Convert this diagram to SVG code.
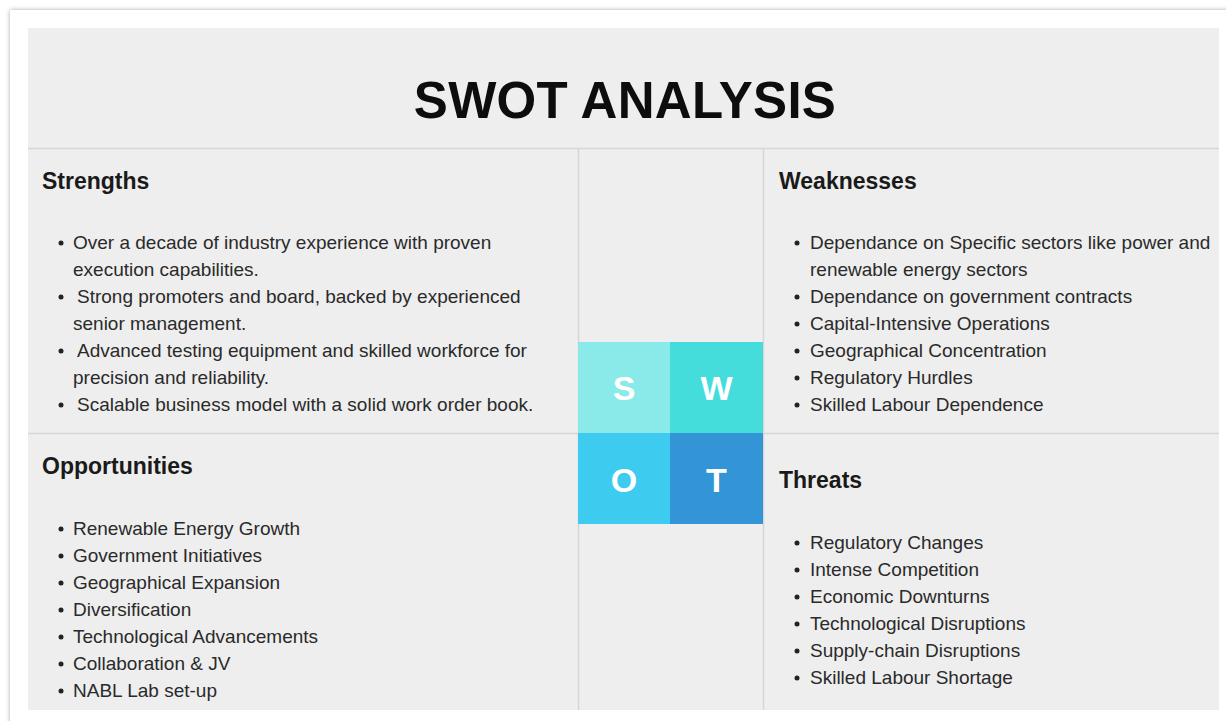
<svg xmlns="http://www.w3.org/2000/svg" width="1226" height="721" viewBox="0 0 1226 721">
  <defs>
    <filter id="shadow" x="-5%" y="-5%" width="110%" height="110%">
      <feDropShadow dx="0" dy="0" stdDeviation="2" flood-color="#000" flood-opacity="0.35"/>
    </filter>
    <style>
      .title { font-family: "Liberation Sans", Arial, sans-serif; font-weight: 700; font-size: 51px; fill: #0d0d0d; letter-spacing: 0.3px; }
      .head { font-family: "Liberation Sans", Arial, sans-serif; font-weight: 700; font-size: 23px; fill: #1a1a1a; }
      .item { font-family: "Liberation Sans", Arial, sans-serif; font-size: 19px; fill: #2a2a2a; }
      .letter { font-family: "Liberation Sans", Arial, sans-serif; font-weight: 700; font-size: 34px; fill: #ffffff; text-anchor: middle; }
      .div { stroke: #d6d6d6; stroke-width: 1.5; fill: none; }
      .dot { fill: #222222; }
    </style>
  </defs>
  <rect x="0" y="0" width="1226" height="721" fill="#ffffff"/>
  <rect x="10" y="10" width="1240" height="740" fill="#ffffff" filter="url(#shadow)"/>
  <rect x="28" y="28" width="1191" height="682" fill="#eeeeee"/>

  <g id="dividers">
    <line class="div" x1="28" y1="148.5" x2="1219" y2="148.5"/>
    <line class="div" x1="578.5" y1="148.5" x2="578.5" y2="710"/>
    <line class="div" x1="763.5" y1="148.5" x2="763.5" y2="710"/>
    <line class="div" x1="28" y1="433.5" x2="578" y2="433.5"/>
    <line class="div" x1="763" y1="433.5" x2="1219" y2="433.5"/>
  </g>

  <g id="title">
    <text class="title" x="625" y="118" text-anchor="middle">SWOT ANALYSIS</text>
  </g>

  <g id="swot-grid">
    <g id="box-s"><rect x="578" y="342" width="92" height="91" fill="#8ae9e9"/><text class="letter" x="624" y="400">S</text></g>
    <g id="box-w"><rect x="670" y="342" width="93" height="91" fill="#45dddb"/><text class="letter" x="716.5" y="400">W</text></g>
    <g id="box-o"><rect x="578" y="433" width="92" height="91" fill="#3dcbef"/><text class="letter" x="624" y="492">O</text></g>
    <g id="box-t"><rect x="670" y="433" width="93" height="91" fill="#3395d6"/><text class="letter" x="716.5" y="492">T</text></g>
  </g>

  <g id="strengths">
    <text class="head" x="42" y="189">Strengths</text>
    <circle class="dot" cx="61" cy="243" r="2.5"/>
    <text class="item" x="73" y="249">Over a decade of industry experience with proven</text>
    <text class="item" x="73" y="276">execution capabilities.</text>
    <circle class="dot" cx="61" cy="297" r="2.5"/>
    <text class="item" x="77" y="303">Strong promoters and board, backed by experienced</text>
    <text class="item" x="73" y="330">senior management.</text>
    <circle class="dot" cx="61" cy="351" r="2.5"/>
    <text class="item" x="77" y="357">Advanced testing equipment and skilled workforce for</text>
    <text class="item" x="73" y="384">precision and reliability.</text>
    <circle class="dot" cx="61" cy="405" r="2.5"/>
    <text class="item" x="77" y="411">Scalable business model with a solid work order book.</text>
  </g>

  <g id="weaknesses">
    <text class="head" x="779" y="189">Weaknesses</text>
    <circle class="dot" cx="797" cy="243" r="2.5"/>
    <text class="item" x="810" y="249">Dependance on Specific sectors like power and</text>
    <text class="item" x="810" y="276">renewable energy sectors</text>
    <circle class="dot" cx="797" cy="297" r="2.5"/>
    <text class="item" x="810" y="303">Dependance on government contracts</text>
    <circle class="dot" cx="797" cy="324" r="2.5"/>
    <text class="item" x="810" y="330">Capital-Intensive Operations</text>
    <circle class="dot" cx="797" cy="351" r="2.5"/>
    <text class="item" x="810" y="357">Geographical Concentration</text>
    <circle class="dot" cx="797" cy="378" r="2.5"/>
    <text class="item" x="810" y="384">Regulatory Hurdles</text>
    <circle class="dot" cx="797" cy="405" r="2.5"/>
    <text class="item" x="810" y="411">Skilled Labour Dependence</text>
  </g>

  <g id="opportunities">
    <text class="head" x="42" y="474">Opportunities</text>
    <circle class="dot" cx="61" cy="529" r="2.5"/>
    <text class="item" x="73" y="535">Renewable Energy Growth</text>
    <circle class="dot" cx="61" cy="556" r="2.5"/>
    <text class="item" x="73" y="562">Government Initiatives</text>
    <circle class="dot" cx="61" cy="583" r="2.5"/>
    <text class="item" x="73" y="589">Geographical Expansion</text>
    <circle class="dot" cx="61" cy="610" r="2.5"/>
    <text class="item" x="73" y="616">Diversification</text>
    <circle class="dot" cx="61" cy="637" r="2.5"/>
    <text class="item" x="73" y="643">Technological Advancements</text>
    <circle class="dot" cx="61" cy="664" r="2.5"/>
    <text class="item" x="73" y="670">Collaboration &amp; JV</text>
    <circle class="dot" cx="61" cy="691" r="2.5"/>
    <text class="item" x="73" y="697">NABL Lab set-up</text>
  </g>

  <g id="threats">
    <text class="head" x="779" y="488">Threats</text>
    <circle class="dot" cx="797" cy="543" r="2.5"/>
    <text class="item" x="810" y="549">Regulatory Changes</text>
    <circle class="dot" cx="797" cy="570" r="2.5"/>
    <text class="item" x="810" y="576">Intense Competition</text>
    <circle class="dot" cx="797" cy="597" r="2.5"/>
    <text class="item" x="810" y="603">Economic Downturns</text>
    <circle class="dot" cx="797" cy="624" r="2.5"/>
    <text class="item" x="810" y="630">Technological Disruptions</text>
    <circle class="dot" cx="797" cy="651" r="2.5"/>
    <text class="item" x="810" y="657">Supply-chain Disruptions</text>
    <circle class="dot" cx="797" cy="678" r="2.5"/>
    <text class="item" x="810" y="684">Skilled Labour Shortage</text>
  </g>
</svg>
